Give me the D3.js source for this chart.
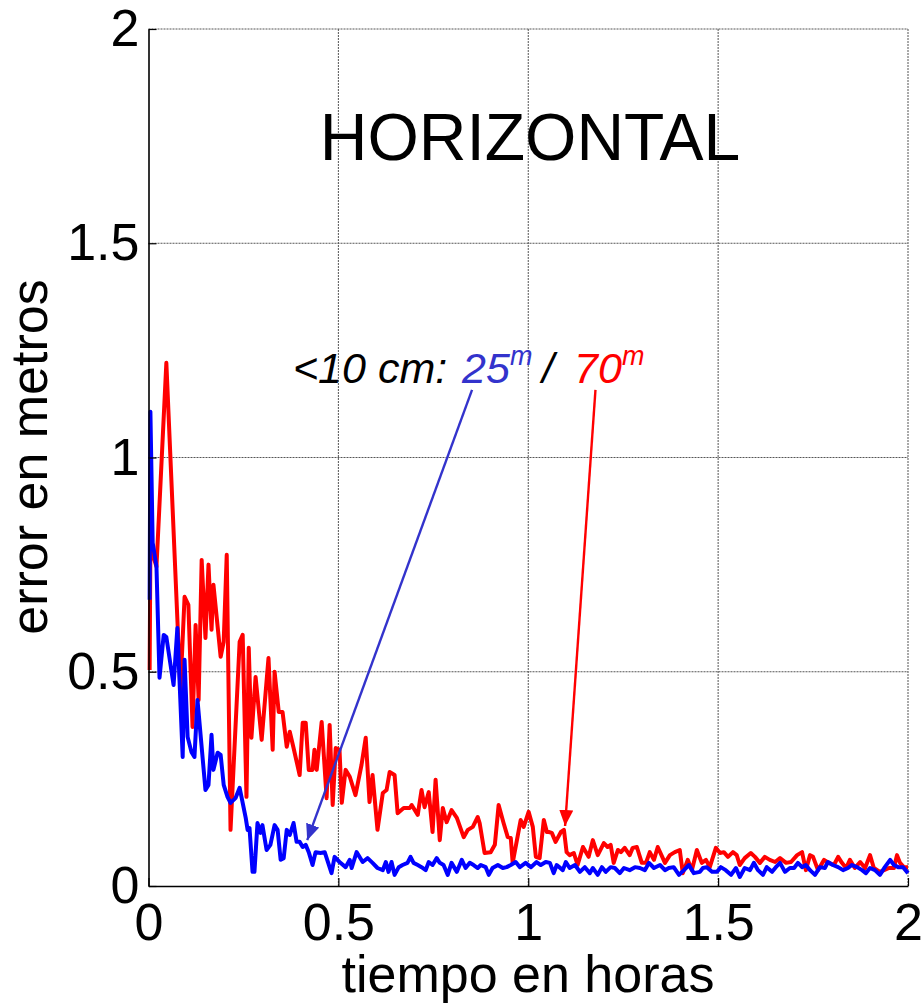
<!DOCTYPE html>
<html><head><meta charset="utf-8">
<script src="https://cdn.jsdelivr.net/npm/d3@7"></script>
<style>body{margin:0;background:#fff}svg{display:block}</style>
</head><body><svg id="chart" width="924" height="1003"></svg>
<script>
const xTicks = [0, 0.5, 1, 1.5, 2];
const yTicks = [0, 0.5, 1, 1.5, 2];
const xTickLabels = ["0", "0.5", "1", "1.5", "2"];
const yTickLabels = ["0", "0.5", "1", "1.5", "2"];

// 70-minute series (red): time in hours, horizontal error in metres
const redTime = [0.003,0.005,0.021,0.047,0.084,0.095,0.105,0.116,0.124,0.132,0.140,0.150,0.158,0.166,0.171,0.190,0.198,0.206,0.216,0.240,0.248,0.258,0.264,0.271,0.282,0.298,0.316,0.327,0.332,0.343,0.353,0.364,0.372,0.382,0.398,0.406,0.414,0.422,0.432,0.437,0.443,0.456,0.469,0.477,0.485,0.493,0.503,0.509,0.519,0.530,0.545,0.561,0.572,0.582,0.590,0.603,0.617,0.627,0.635,0.648,0.656,0.672,0.688,0.693,0.709,0.719,0.727,0.738,0.748,0.756,0.767,0.775,0.785,0.798,0.812,0.830,0.841,0.854,0.867,0.872,0.885,0.901,0.912,0.922,0.935,0.946,0.954,0.959,0.980,0.988,1.001,1.012,1.020,1.030,1.041,1.049,1.054,1.062,1.072,1.086,1.094,1.101,1.109,1.120,1.130,1.144,1.159,1.170,1.183,1.199,1.209,1.217,1.225,1.236,1.244,1.254,1.267,1.275,1.286,1.299,1.310,1.320,1.331,1.341,1.360,1.373,1.386,1.399,1.407,1.420,1.431,1.444,1.457,1.468,1.478,1.494,1.505,1.515,1.526,1.539,1.549,1.557,1.570,1.586,1.597,1.610,1.623,1.636,1.650,1.663,1.679,1.692,1.708,1.721,1.731,1.742,1.750,1.763,1.779,1.792,1.805,1.816,1.826,1.837,1.847,1.860,1.874,1.887,1.900,1.910,1.926,1.937,1.950,1.963,1.971,1.979,1.989,2.000];
const redError = [0.504,0.792,0.745,1.221,0.458,0.675,0.656,0.371,0.609,0.434,0.761,0.579,0.750,0.598,0.703,0.535,0.570,0.773,0.131,0.570,0.586,0.208,0.556,0.346,0.488,0.341,0.532,0.318,0.500,0.406,0.406,0.325,0.360,0.322,0.259,0.381,0.381,0.271,0.271,0.318,0.271,0.383,0.205,0.376,0.189,0.322,0.318,0.194,0.271,0.255,0.212,0.283,0.346,0.196,0.259,0.131,0.217,0.224,0.266,0.259,0.170,0.182,0.182,0.189,0.166,0.224,0.184,0.219,0.126,0.248,0.107,0.182,0.149,0.177,0.159,0.114,0.131,0.138,0.161,0.147,0.077,0.079,0.096,0.189,0.147,0.114,0.112,0.054,0.154,0.138,0.173,0.138,0.068,0.065,0.154,0.126,0.126,0.124,0.103,0.126,0.131,0.079,0.072,0.077,0.049,0.091,0.068,0.107,0.072,0.100,0.091,0.096,0.054,0.084,0.079,0.089,0.072,0.089,0.091,0.054,0.054,0.079,0.061,0.091,0.054,0.072,0.079,0.084,0.030,0.061,0.037,0.084,0.054,0.061,0.044,0.089,0.077,0.079,0.068,0.079,0.072,0.049,0.065,0.077,0.068,0.054,0.068,0.061,0.056,0.065,0.054,0.056,0.072,0.079,0.037,0.072,0.068,0.037,0.061,0.054,0.049,0.068,0.054,0.042,0.061,0.042,0.056,0.042,0.072,0.042,0.033,0.037,0.042,0.042,0.072,0.054,0.044,0.044];

// 25-minute series (blue)
const blueTime = [0.003,0.005,0.011,0.021,0.029,0.040,0.047,0.066,0.076,0.090,0.095,0.103,0.113,0.121,0.129,0.150,0.158,0.166,0.171,0.182,0.190,0.198,0.208,0.216,0.229,0.240,0.256,0.261,0.266,0.274,0.279,0.287,0.295,0.300,0.311,0.321,0.332,0.340,0.348,0.356,0.364,0.372,0.382,0.390,0.398,0.406,0.414,0.422,0.432,0.440,0.453,0.464,0.482,0.490,0.503,0.519,0.530,0.535,0.548,0.564,0.577,0.590,0.603,0.617,0.625,0.632,0.640,0.648,0.659,0.669,0.682,0.690,0.698,0.709,0.719,0.730,0.738,0.748,0.759,0.767,0.777,0.788,0.798,0.812,0.825,0.835,0.846,0.856,0.867,0.875,0.888,0.896,0.906,0.920,0.933,0.943,0.954,0.967,0.978,0.993,1.007,1.022,1.033,1.046,1.057,1.067,1.075,1.091,1.099,1.109,1.123,1.136,1.149,1.162,1.170,1.183,1.194,1.204,1.217,1.228,1.241,1.252,1.267,1.281,1.294,1.307,1.318,1.331,1.347,1.360,1.370,1.383,1.397,1.410,1.423,1.436,1.452,1.460,1.470,1.484,1.497,1.507,1.520,1.534,1.547,1.557,1.570,1.584,1.594,1.605,1.618,1.628,1.642,1.652,1.663,1.676,1.689,1.700,1.710,1.721,1.731,1.742,1.755,1.768,1.781,1.789,1.802,1.816,1.829,1.842,1.852,1.866,1.879,1.889,1.900,1.913,1.926,1.939,1.953,1.963,1.974,1.987,2.000];
const blueError = [0.668,1.107,0.801,0.745,0.486,0.586,0.581,0.469,0.602,0.301,0.528,0.348,0.313,0.301,0.434,0.224,0.236,0.353,0.271,0.311,0.306,0.236,0.208,0.194,0.205,0.229,0.159,0.131,0.135,0.033,0.033,0.147,0.124,0.142,0.084,0.096,0.142,0.131,0.061,0.065,0.131,0.119,0.147,0.103,0.103,0.091,0.096,0.079,0.049,0.079,0.077,0.079,0.030,0.068,0.056,0.044,0.061,0.042,0.079,0.056,0.065,0.054,0.042,0.037,0.056,0.033,0.056,0.026,0.044,0.049,0.054,0.068,0.054,0.049,0.044,0.037,0.056,0.049,0.065,0.054,0.049,0.026,0.054,0.033,0.061,0.042,0.054,0.049,0.042,0.049,0.044,0.026,0.042,0.049,0.042,0.044,0.049,0.056,0.044,0.054,0.044,0.056,0.049,0.056,0.054,0.030,0.049,0.037,0.056,0.042,0.049,0.033,0.044,0.030,0.042,0.026,0.044,0.033,0.044,0.042,0.030,0.042,0.037,0.044,0.042,0.037,0.054,0.042,0.049,0.037,0.042,0.044,0.026,0.037,0.049,0.030,0.033,0.042,0.044,0.033,0.033,0.044,0.037,0.026,0.042,0.021,0.042,0.037,0.054,0.037,0.026,0.044,0.033,0.044,0.054,0.033,0.042,0.042,0.054,0.044,0.049,0.037,0.026,0.044,0.042,0.056,0.049,0.044,0.037,0.042,0.049,0.044,0.037,0.030,0.042,0.037,0.026,0.044,0.061,0.049,0.044,0.044,0.030];

// annotation arrows: [startTime, startErr, endTime, endErr]
const blueArrow = [0.852, 1.158, 0.418, 0.107];
const redArrow = [1.177, 1.158, 1.097, 0.140];

const titleText = "HORIZONTAL";
const xLabel = "tiempo en horas";
const yLabel = "error en metros";

const svg = d3.select("#chart");
svg.append("rect").attr("width", 924).attr("height", 1003).attr("fill", "#fff");

const x = d3.scaleLinear().domain([0, 2]).range([148.5, 908]);
const y = d3.scaleLinear().domain([0, 2]).range([886, 29]);
const FONT = "'Liberation Sans', Arial, sans-serif";

// grid
const grid = svg.append("g").attr("stroke", "#555").attr("stroke-width", 1).attr("stroke-dasharray", "2,1");
grid.selectAll("line.v").data(xTicks.filter(d => d > 0)).join("line")
  .attr("x1", d => x(d)).attr("x2", d => x(d)).attr("y1", y(0)).attr("y2", y(2));
grid.selectAll("line.h").data(yTicks.filter(d => d > 0)).join("line")
  .attr("x1", x(0)).attr("x2", x(2)).attr("y1", d => y(d)).attr("y2", d => y(d));

// lines
const line = (tArr, vArr) => d3.line().x((d, i) => x(tArr[i])).y((d, i) => y(vArr[i]))(vArr);
svg.append("path").attr("d", line(redTime, redError)).attr("fill", "none")
  .attr("stroke", "#ff0000").attr("stroke-width", 4).attr("stroke-linejoin", "round");
svg.append("path").attr("d", line(blueTime, blueError)).attr("fill", "none")
  .attr("stroke", "#0000ff").attr("stroke-width", 4).attr("stroke-linejoin", "round");

// axes
const yAxis = d3.axisLeft(y).tickValues(yTicks).tickFormat((d, i) => yTickLabels[i])
  .tickSizeInner(-8).tickSizeOuter(0).tickPadding(9);
const gy = svg.append("g").attr("transform", `translate(${x(0)},0)`).call(yAxis);
const xAxis = d3.axisBottom(x).tickValues(xTicks).tickFormat((d, i) => xTickLabels[i])
  .tickSizeInner(-8).tickSizeOuter(0).tickPadding(17);
const gx = svg.append("g").attr("transform", `translate(0,${y(0)})`).call(xAxis);
[gx, gy].forEach(g => {
  g.select(".domain").attr("stroke", "#000").attr("stroke-width", 1.6);
  g.selectAll(".tick line").attr("stroke", "#000").attr("stroke-width", 1.2);
  g.selectAll(".tick text").attr("font-family", FONT).attr("font-size", 52).attr("fill", "#000");
});

// titles
svg.append("text").attr("x", 528).attr("y", 992).attr("text-anchor", "middle")
  .attr("font-family", FONT).attr("font-size", 52).text(xLabel);
svg.append("text").attr("transform", "translate(47,457) rotate(-90)").attr("text-anchor", "middle")
  .attr("font-family", FONT).attr("font-size", 52).text(yLabel);
svg.append("text").attr("x", 530).attr("y", 160).attr("text-anchor", "middle")
  .attr("font-family", FONT).attr("font-size", 66).text(titleText);

// annotation text
const ann = svg.append("text").attr("y", 383).attr("font-family", FONT)
  .attr("font-style", "italic").attr("font-size", 43);
ann.append("tspan").attr("x", 293).text("<10 cm:");
ann.append("tspan").attr("x", 462).attr("fill", "#3333cc").text("25");
ann.append("tspan").attr("x", 510).attr("dy", -18).attr("font-size", 27).attr("fill", "#3333cc").text("m");
ann.append("tspan").attr("x", 542).attr("dy", 18).text("/");
ann.append("tspan").attr("x", 574).attr("fill", "#ff0000").text("70");
ann.append("tspan").attr("x", 622).attr("dy", -18).attr("font-size", 27).attr("fill", "#ff0000").text("m");

// arrows
const defs = svg.append("defs");
[["ab", "#3333cc"], ["ar", "#ff0000"]].forEach(([id, c]) => {
  defs.append("marker").attr("id", id).attr("viewBox", "0 0 16 14").attr("refX", 16).attr("refY", 7)
    .attr("markerWidth", 16).attr("markerHeight", 14).attr("markerUnits", "userSpaceOnUse")
    .attr("orient", "auto").append("path").attr("d", "M0,0L16,7L0,14Z").attr("fill", c);
});
[[blueArrow, "#3333cc", "ab"], [redArrow, "#ff0000", "ar"]].forEach(([a, c, id]) => {
  svg.append("line").attr("x1", x(a[0])).attr("y1", y(a[1])).attr("x2", x(a[2])).attr("y2", y(a[3]))
    .attr("stroke", c).attr("stroke-width", 2.4).attr("marker-end", `url(#${id})`);
});
</script>
</body></html>
